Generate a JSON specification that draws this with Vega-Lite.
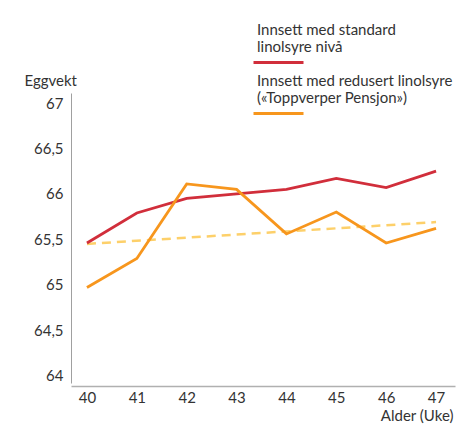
{
  "$schema": "https://vega.github.io/schema/vega-lite/v6.json",
  "width": 384,
  "height": 290,
  "autosize": "none",
  "padding": {"left": 71, "top": 93, "right": 19, "bottom": 45},
  "background": "#ffffff",
  "config": {
    "font": "Lato",
    "view": {"stroke": null},
    "axis": {"labelFont": "Lato", "titleFont": "Lato", "labelColor": "#333333", "titleColor": "#333333", "labelFontSize": 15, "titleFontSize": 15, "titleFontWeight": "normal", "grid": false, "ticks": false}
  },
  "datasets": {
    "lines": [
      {"week": 40, "value": 65.46, "series": "standard"},
      {"week": 41, "value": 65.79, "series": "standard"},
      {"week": 42, "value": 65.95, "series": "standard"},
      {"week": 43, "value": 66.0, "series": "standard"},
      {"week": 44, "value": 66.05, "series": "standard"},
      {"week": 45, "value": 66.17, "series": "standard"},
      {"week": 46, "value": 66.07, "series": "standard"},
      {"week": 47, "value": 66.25, "series": "standard"},
      {"week": 40, "value": 64.97, "series": "redusert"},
      {"week": 41, "value": 65.29, "series": "redusert"},
      {"week": 42, "value": 66.11, "series": "redusert"},
      {"week": 43, "value": 66.05, "series": "redusert"},
      {"week": 44, "value": 65.56, "series": "redusert"},
      {"week": 45, "value": 65.8, "series": "redusert"},
      {"week": 46, "value": 65.46, "series": "redusert"},
      {"week": 47, "value": 65.62, "series": "redusert"}
    ],
    "trend": [
      {"week": 40, "value": 65.45},
      {"week": 47, "value": 65.69}
    ]
  },
  "layer": [
    {
      "data": {"name": "trend"},
      "mark": {"type": "line", "color": "#fdd06a", "strokeWidth": 2.5, "strokeDash": [9, 6]},
      "encoding": {
        "x": {"field": "week", "type": "quantitative", "scale": {"domain": [39.68, 47.38], "nice": false, "zero": false}},
        "y": {"field": "value", "type": "quantitative", "scale": {"domain": [63.92, 67.11], "nice": false, "zero": false}}
      }
    },
    {
      "data": {"name": "lines"},
      "mark": {"type": "line", "strokeWidth": 2.8},
      "encoding": {
        "x": {
          "field": "week", "type": "quantitative",
          "scale": {"domain": [39.68, 47.38], "nice": false, "zero": false},
          "axis": {
            "title": "Alder (Uke)", "values": [40, 41, 42, 43, 44, 45, 46, 47],
            "domainColor": "#b0b0b0", "domainWidth": 1.5, "offset": 3, "labelPadding": 4,
            "titleAnchor": "end", "titleAlign": "right", "titleX": 382, "titleY": 34, "titleBaseline": "alphabetic"
          }
        },
        "y": {
          "field": "value", "type": "quantitative",
          "scale": {"domain": [63.92, 67.11], "nice": false, "zero": false},
          "axis": {
            "title": "Eggvekt", "values": [64, 64.5, 65, 65.5, 66, 66.5, 67],
            "labelExpr": "replace(toString(datum.value), '.', ',')",
            "domainColor": "#a0a0a0", "domainWidth": 1, "labelPadding": 8,
            "titleAngle": 0, "titleAlign": "left", "titleAnchor": "end", "titleX": -47, "titleY": -8, "titleBaseline": "alphabetic"
          }
        },
        "color": {
          "field": "series", "type": "nominal",
          "scale": {"domain": ["standard", "redusert"], "range": ["#d12e3b", "#f7961d"]},
          "legend": {
            "title": null, "orient": "none", "legendX": 181, "legendY": -75,
            "symbolType": "M-1,3.3L4,3.3", "symbolSize": 400, "symbolStrokeWidth": 3, "symbolFillColor": "transparent",
            "labelExpr": "datum.label == 'standard' ? ['Innsett med standard', 'linolsyre nivå'] : ['Innsett med redusert linolsyre', '(«Toppverper Pensjon»)']",
            "labelBaseline": "middle", "labelOffset": -18, "labelFontSize": 15, "labelColor": "#333333", "labelFont": "Lato",
            "labelLineHeight": 20, "labelLimit": 300, "padding": 0, "rowPadding": -9
          }
        }
      }
    }
  ]
}
